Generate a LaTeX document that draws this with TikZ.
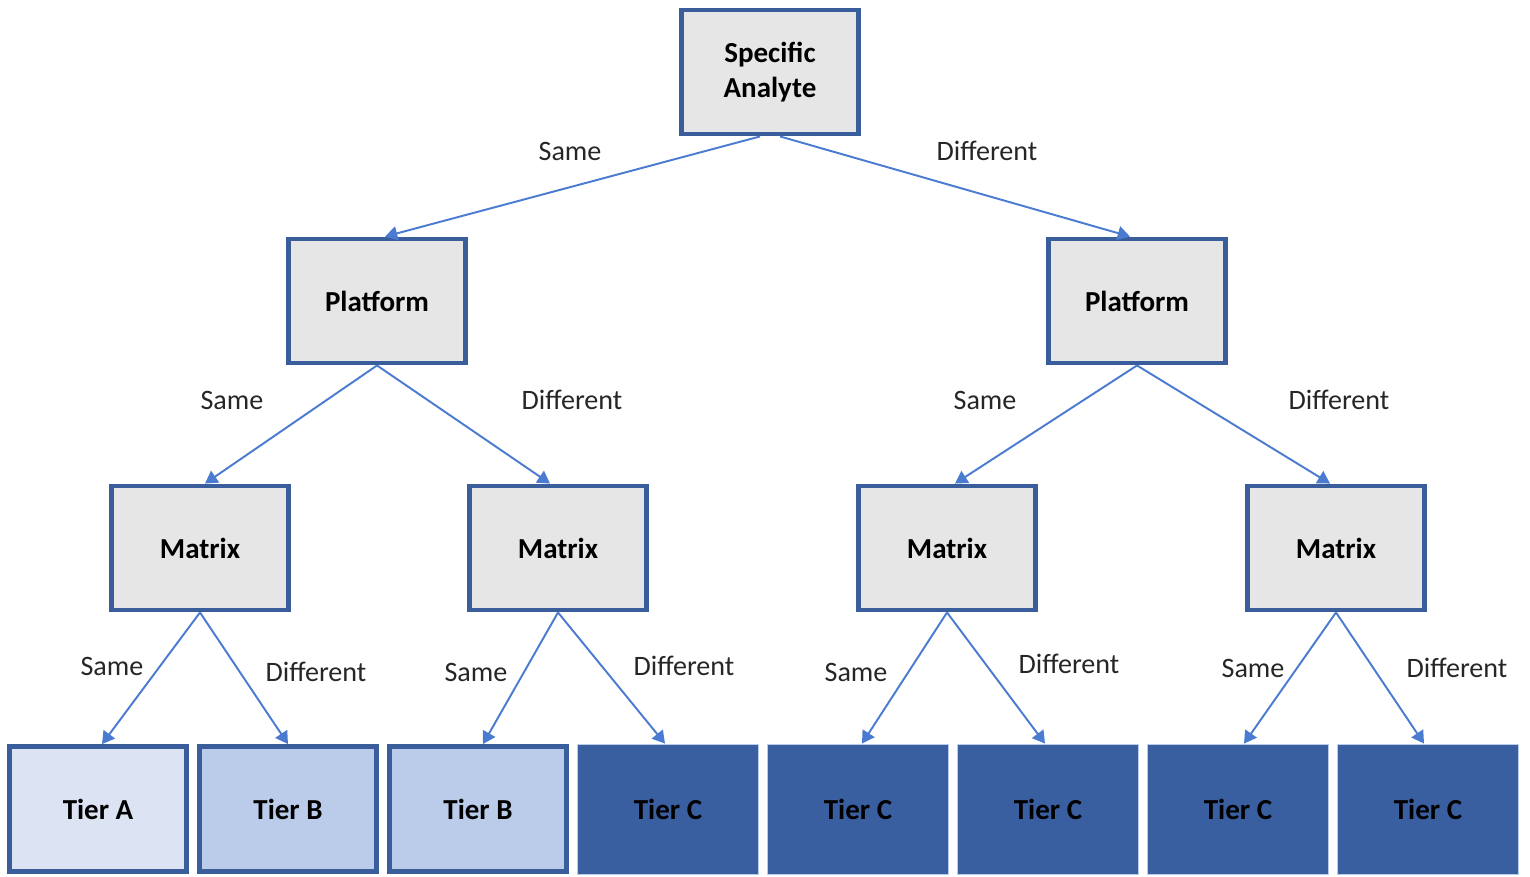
\documentclass[tikz,border=0pt]{standalone}
\usepackage{fontspec}
\setmainfont{Carlito}
\usetikzlibrary{arrows.meta,positioning}
\definecolor{boxline}{HTML}{3A5D9C}
\definecolor{boxgray}{HTML}{E7E6E6}
\definecolor{arrowblue}{HTML}{4A7BD0}
\definecolor{tiera}{HTML}{DCE4F3}
\definecolor{tierb}{HTML}{BACCE9}
\definecolor{tierc}{HTML}{3A5FA0}
\begin{document}
\begin{tikzpicture}[x=0.02cm, y=-0.02cm, >={Triangle[length=7pt,width=8pt]},
      flat/.style={rectangle,draw=boxline,line width=2.8pt,fill=boxgray,text=black,
        minimum width=3.54cm,minimum height=2.48cm,align=center,
        font=\bfseries\fontsize{16.5}{20}\selectfont},
      tierlight/.style={flat,minimum height=2.5cm},
      tierdark/.style={rectangle,draw=tierb,line width=0.5pt,fill=tierc,text=black,
        minimum width=3.62cm,minimum height=2.6cm,
        font=\bfseries\fontsize{16.5}{20}\selectfont},
      edge/.style={->,draw=arrowblue,line width=1.1pt},
      lbl/.style={text=black!85,font=\fontsize{16}{19}\selectfont}]
      \useasboundingbox (0,0) rectangle (1530,876);
      % boxes
      \node[flat] at (770,72)   (analyte) {Specific\\Analyte};
      \node[flat] at (377,301)  (platL) {Platform};
      \node[flat] at (1137,301) (platR) {Platform};
      \node[flat] at (200,548)  (mat1) {Matrix};
      \node[flat] at (558,548)  (mat2) {Matrix};
      \node[flat] at (947,548)  (mat3) {Matrix};
      \node[flat] at (1336,548) (mat4) {Matrix};
      \node[tierlight,fill=tiera] at (98,809)  (tierA)  {Tier A};
      \node[tierlight,fill=tierb] at (288,809) (tierB1) {Tier B};
      \node[tierlight,fill=tierb] at (478,809) (tierB2) {Tier B};
      \node[tierdark] at (668,809)  (tierC1) {Tier C};
      \node[tierdark] at (858,809)  (tierC2) {Tier C};
      \node[tierdark] at (1048,809) (tierC3) {Tier C};
      \node[tierdark] at (1238,809) (tierC4) {Tier C};
      \node[tierdark] at (1428,809) (tierC5) {Tier C};
      % arrows
      \draw[edge] ([xshift=-0.2cm]analyte.south) -- ([xshift=0.16cm]platL.north);
      \draw[edge] ([xshift=0.2cm]analyte.south) -- ([xshift=-0.14cm]platR.north);
      \draw[edge] (platL.south) -- ([xshift=0.1cm]mat1.north);
      \draw[edge] (platL.south) -- ([xshift=-0.16cm]mat2.north);
      \draw[edge] (platR.south) -- ([xshift=0.16cm]mat3.north);
      \draw[edge] (platR.south) -- ([xshift=-0.12cm]mat4.north);
      \draw[edge] (mat1.south) -- ([xshift=0.08cm]tierA.north);
      \draw[edge] (mat1.south) -- (tierB1.north);
      \draw[edge] (mat2.south) -- ([xshift=0.1cm]tierB2.north);
      \draw[edge] (mat2.south) -- ([xshift=-0.06cm]tierC1.north);
      \draw[edge] (mat3.south) -- ([xshift=0.08cm]tierC2.north);
      \draw[edge] (mat3.south) -- ([xshift=-0.06cm]tierC3.north);
      \draw[edge] (mat4.south) -- ([xshift=0.12cm]tierC4.north);
      \draw[edge] (mat4.south) -- ([xshift=-0.08cm]tierC5.north);
      % labels
      \node[lbl] at (570,151)  (l1)  {Same};
      \node[lbl] at (987,151)  (l2)  {Different};
      \node[lbl] at (232,400)  (l3)  {Same};
      \node[lbl] at (572,400)  (l4)  {Different};
      \node[lbl] at (985,400)  (l5)  {Same};
      \node[lbl] at (1339,400) (l6)  {Different};
      \node[lbl] at (112,666)  (l7)  {Same};
      \node[lbl] at (316,672)  (l8)  {Different};
      \node[lbl] at (476,672)  (l9)  {Same};
      \node[lbl] at (684,666)  (l10) {Different};
      \node[lbl] at (856,672)  (l11) {Same};
      \node[lbl] at (1069,664) (l12) {Different};
      \node[lbl] at (1253,668) (l13) {Same};
      \node[lbl] at (1457,668) (l14) {Different};
\end{tikzpicture}
\end{document}
